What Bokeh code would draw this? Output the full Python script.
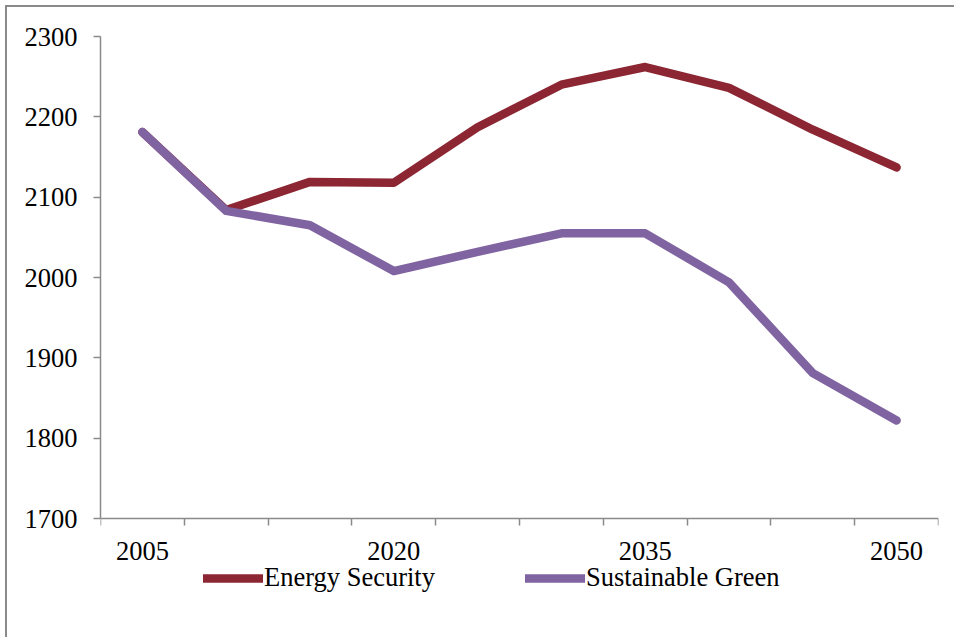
from bokeh.plotting import figure
from bokeh.models import FixedTicker, Legend, LegendItem, Range1d
from bokeh.embed import file_html
from bokeh.resources import INLINE

# Scenario projections, one value every five years
years = [2005, 2010, 2015, 2020, 2025, 2030, 2035, 2040, 2045, 2050]
energy_security = [2181, 2084, 2119, 2118, 2187, 2240, 2262, 2236, 2184, 2137]
sustainable_green = [2181, 2083, 2065, 2008, 2032, 2055, 2055, 1994, 1881, 1822]

labelled_years = [2005, 2020, 2035, 2050]
y_ticks = [1700, 1800, 1900, 2000, 2100, 2200, 2300]

RED = "#8C2633"
PURPLE = "#8064A2"
AXIS = "#8a8a8a"
FONT = "Liberation Serif"
FONT_SIZE = "26.5px"

W, H = 949, 632
TOP, BOTTOM = 29, 44            # borders around the plot frame
AXIS_Y = 511                    # canvas row of the value axis' base line
Y_MIN, Y_MAX = y_ticks[0], y_ticks[-1]
# The frame runs below the value axis so the legend can sit under the chart
px_per_unit = (AXIS_Y - TOP) / (Y_MAX - Y_MIN)
y_floor = Y_MIN - (H - BOTTOM - AXIS_Y) / px_per_unit

p = figure(
    width=W, height=H,
    output_backend="svg", toolbar_location=None,
    x_range=Range1d(2002.5, 2052.5), y_range=Range1d(y_floor, Y_MAX),
    min_border_left=93, min_border_right=18,
    min_border_top=TOP, min_border_bottom=BOTTOM,
)
p.styles = {
    "margin-left": "5px", "margin-top": "5px",
    "border-left": f"2px solid {AXIS}", "border-top": f"2px solid {AXIS}",
}
p.outline_line_color = None
p.xgrid.visible = False
p.ygrid.visible = False

r_es = p.line(years, energy_security, line_color=RED, line_width=8.5,
              line_cap="round", line_join="round")
r_sg = p.line(years, sustainable_green, line_color=PURPLE, line_width=8.5,
              line_cap="round", line_join="round")

# x axis sits on the 1700 line: labels every third year, ticks between years
xa = p.xaxis[0]
xa.fixed_location = Y_MIN
xa.ticker = FixedTicker(ticks=labelled_years,
                        minor_ticks=[y - 2.5 for y in years] + [years[-1] + 2.5])
xa.major_tick_out = 0
xa.major_tick_in = 0
xa.minor_tick_out = 7
xa.minor_tick_in = 0
xa.major_label_standoff = 16

ya = p.yaxis[0]
ya.ticker = FixedTicker(ticks=y_ticks)
ya.bounds = (Y_MIN, Y_MAX)
ya.major_tick_out = 7
ya.major_tick_in = 0
ya.minor_tick_line_color = None
ya.major_label_standoff = 16

for ax in (xa, ya):
    ax.axis_line_color = AXIS
    ax.axis_line_width = 1.5
    ax.major_tick_line_color = AXIS
    ax.major_tick_line_width = 1.5
    ax.minor_tick_line_color = AXIS if ax is xa else None
    ax.minor_tick_line_width = 1.5
    ax.major_label_text_font = FONT
    ax.major_label_text_font_size = FONT_SIZE
    ax.major_label_text_color = "black"

legend = Legend(
    items=[LegendItem(label="Energy Security", renderers=[r_es]),
           LegendItem(label="Sustainable Green", renderers=[r_sg])],
    orientation="horizontal",
    location=(103, 2),
    glyph_width=60, glyph_height=20,
    label_standoff=1, spacing=90,
    padding=0, margin=0,
    border_line_color=None, background_fill_alpha=0,
    label_text_font=FONT, label_text_font_size=FONT_SIZE,
    label_text_color="black",
)
p.add_layout(legend, "center")

open("out.html", "w").write(file_html(p, INLINE))
